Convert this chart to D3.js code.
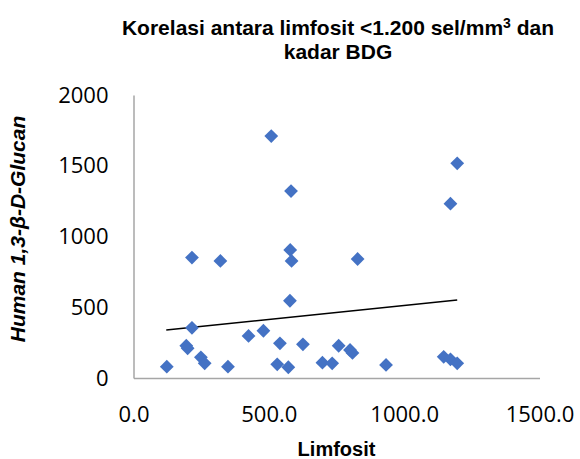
<!DOCTYPE html>
<html>
<head>
<meta charset="utf-8">
<script src="https://cdn.jsdelivr.net/npm/d3@7"></script>
<style>
  html, body { margin: 0; padding: 0; background: #fff; }
  svg { display: block; }
</style>
</head>
<body>
<svg id="chart" width="580" height="459"></svg>
<script>
// Data
const limfosit = [123, 216, 216, 321, 509, 582, 579, 584, 578, 195, 200, 249, 263, 349, 425, 480, 541, 531, 572, 626, 698, 734, 758, 800, 809, 933, 828, 1196, 1171, 1146, 1171, 1196];
const glucan   = [80, 851, 355, 827, 1710, 1321, 905, 827, 546, 228, 210, 146, 104, 80, 297, 334, 245, 97, 76, 238, 108, 104, 228, 198, 177, 92, 841, 1517, 1232, 150, 132, 104];
const trendX = [121, 1196];
const trendY = [339, 551];
const xTicks = [0, 500, 1000, 1500];
const yTicks = [0, 500, 1000, 1500, 2000];

const svg = d3.select("#chart");
const x = d3.scaleLinear().domain([0, 1500]).range([133.5, 539.5]);
const y = d3.scaleLinear().domain([0, 2000]).range([378, 95]);

// Title
const title = svg.append("text")
  .attr("x", 338).attr("y", 35)
  .attr("text-anchor", "middle")
  .attr("font-family", "Liberation Sans, Arial, sans-serif")
  .attr("font-weight", "bold")
  .attr("font-size", 21)
  .attr("fill", "#000");
title.append("tspan").text("Korelasi antara limfosit <1.200 sel/mm");
title.append("tspan").attr("font-size", 14).attr("dy", -7).text("3");
title.append("tspan").attr("dy", 7).text(" dan");
svg.append("text")
  .attr("x", 338).attr("y", 59)
  .attr("text-anchor", "middle")
  .attr("font-family", "Liberation Sans, Arial, sans-serif")
  .attr("font-weight", "bold")
  .attr("font-size", 21)
  .text("kadar BDG");

// Axes
const xAxis = d3.axisBottom(x).tickValues(xTicks).tickFormat(d3.format(".1f")).tickSize(0).tickPadding(28);
const yAxis = d3.axisLeft(y).tickValues(yTicks).tickFormat(d3.format("d")).tickSize(0).tickPadding(25);

const gx = svg.append("g").attr("transform", `translate(0,${y(0)})`).call(xAxis);
const gy = svg.append("g").attr("transform", `translate(${x(0)},0)`).call(yAxis);
[gx, gy].forEach(g => {
  g.select(".domain").attr("stroke", "#A6A6A6").attr("stroke-width", 1.5);
  g.selectAll("text")
    .attr("font-family", "Open Sans, sans-serif")
    .attr("font-size", 22)
    .attr("fill", "#000");
});

// Trend line
svg.append("line")
  .attr("x1", x(trendX[0])).attr("y1", y(trendY[0]))
  .attr("x2", x(trendX[1])).attr("y2", y(trendY[1]))
  .attr("stroke", "#000").attr("stroke-width", 1.5);

// Points
const sym = d3.symbol().type(d3.symbolSquare).size(95);
svg.append("g").selectAll("path")
  .data(limfosit.map((v, i) => [v, glucan[i]]))
  .join("path")
  .attr("d", sym)
  .attr("transform", d => `translate(${x(d[0])},${y(d[1])}) rotate(45)`)
  .attr("fill", "#4472C4");

// Axis titles
svg.append("text")
  .attr("x", x(750)).attr("y", 456)
  .attr("text-anchor", "middle")
  .attr("font-family", "Liberation Sans, Arial, sans-serif")
  .attr("font-weight", "bold")
  .attr("font-size", 20)
  .text("Limfosit");

svg.append("text")
  .attr("transform", "translate(25,229) rotate(-90)")
  .attr("text-anchor", "middle")
  .attr("font-family", "Liberation Sans, Arial, sans-serif")
  .attr("font-weight", "bold")
  .attr("font-style", "italic")
  .attr("font-size", 21)
  .text("Human 1,3-β-D-Glucan");
</script>
</body>
</html>
